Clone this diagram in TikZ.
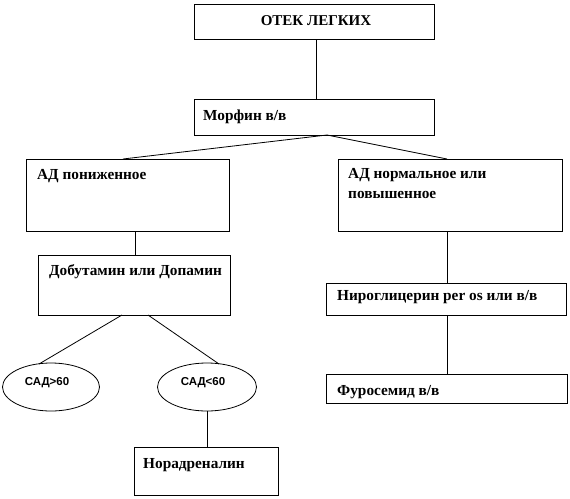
\documentclass[tikz,border=0pt]{standalone}
\usepackage{fontspec}
\setmainfont{Liberation Serif}
\newfontfamily\arialf{Liberation Sans}
\usetikzlibrary{shapes.geometric,calc}
\tikzset{
  box/.style={draw=black, line width=0.8pt, rectangle, inner sep=0pt, outer sep=0pt, anchor=north west},
  oval/.style={draw=black, line width=0.8pt, ellipse, inner sep=0pt, outer sep=0pt},
  txt/.style={inner sep=0pt, anchor=west, font=\fontsize{15.3}{18}\selectfont\bfseries},
  ctxt/.style={inner sep=0pt, font=\fontsize{15}{18}\selectfont\bfseries},
  stxt/.style={inner sep=0pt, font=\arialf\fontsize{11.5}{14}\selectfont\bfseries},
  conn/.style={draw=black, line width=0.8pt}
}
\begin{document}
\begin{tikzpicture}[x=1pt,y=-1pt]
\useasboundingbox (0,0) rectangle (570,498);
% boxes
\node[box, minimum width=240pt, minimum height=35pt] (b0) at (194,4) {};
\node[box, minimum width=240pt, minimum height=36pt] (b1) at (194,99) {};
\node[box, minimum width=203pt, minimum height=72pt] (b2) at (26,159) {};
\node[box, minimum width=192pt, minimum height=60pt] (b3) at (38,255) {};
\node[box, minimum width=224pt, minimum height=72pt] (b4) at (338,159) {};
\node[box, minimum width=240pt, minimum height=32pt] (b5) at (326,283) {};
\node[box, minimum width=241pt, minimum height=29pt] (b6) at (326,374) {};
\node[box, minimum width=144pt, minimum height=48pt] (b7) at (134,447) {};
\node[oval, minimum width=97pt, minimum height=48pt] (e1) at (51,387) {};
\node[oval, minimum width=99pt, minimum height=48pt] (e2) at (207,387) {};
% texts
\node[ctxt] (t0) at (316,21) {ОТЕК ЛЕГКИХ};
\node[txt] (t1) at (203,117) {Морфин в/в};
\node[txt] (t2) at (37,176) {АД пониженное};
\node[txt] (t3) at (49,272) {Добутамин или Допамин};
\node[txt] (t4a) at (348,175) {АД нормальное или};
\node[txt] (t4b) at (348,195) {повышенное};
\node[txt] (t5) at (337,297) {Нироглицерин per os или в/в};
\node[txt] (t6) at (337,392) {Фуросемид в/в};
\node[txt] (t7) at (143,465) {Норадреналин};
\node[stxt] (s1) at (47,383) {САД>60};
\node[stxt] (s2) at (203,383) {САД<60};
% connector points
\coordinate (c0) at (316,39);
\coordinate (c1) at (327,135);
\coordinate (c2) at (123,159);
\coordinate (c4) at (447,159);
\coordinate (c2b) at (135,231);
\coordinate (c4b) at (447,231);
\coordinate (c5b) at (447,315);
\coordinate (c3l) at (122,315);
\coordinate (c3r) at (148,315);
\coordinate (e1t) at (39,364);
\coordinate (e2t) at (219,364);
% connectors
\draw[conn] (c0) -- (c0 |- b1.north);
\draw[conn] (c1) -- (c2);
\draw[conn] (c1) -- (c4);
\draw[conn] (c2b) -- (c2b |- b3.north);
\draw[conn] (c4b) -- (c4b |- b5.north);
\draw[conn] (c5b) -- (c5b |- b6.north);
\draw[conn] (c3l) -- (e1t);
\draw[conn] (c3r) -- (e2t);
\draw[conn] (e2.south) -- (e2.south |- b7.north);
\end{tikzpicture}
\end{document}
